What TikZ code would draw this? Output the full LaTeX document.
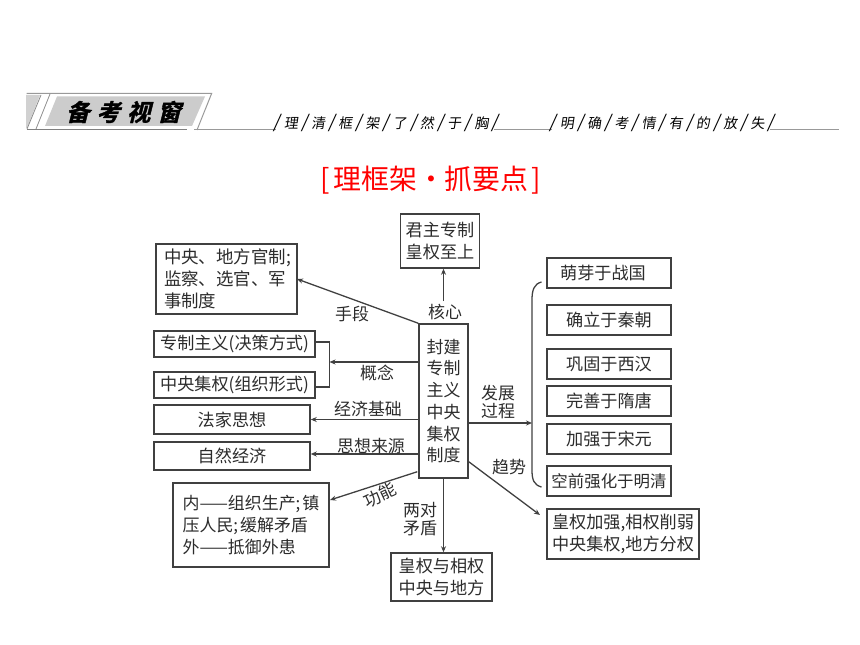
\documentclass[tikz,border=0pt]{standalone}
\usepackage{fontspec}
\usetikzlibrary{arrows.meta,calc}
\setmainfont{Noto Sans CJK SC}
\newfontfamily\bannerfont[FakeSlant=0.25,FakeBold=1.5,BoldFont={Noto Sans CJK SC Bold}]{Noto Sans CJK SC}
\newfontfamily\stripfont[FakeSlant=0.15]{Noto Sans CJK SC}
\newcommand{\sep}{\makebox[13.3bp]{\fontsize{18}{18}\selectfont /}}
\definecolor{ink}{HTML}{404040}
\definecolor{txt}{HTML}{2C2C2C}
\tikzset{
  every node/.style={text=txt,font=\fontsize{17.2}{22}\selectfont},
  box/.style={draw=ink,line width=1.5pt,inner sep=0pt,align=center,fill=white},
  lbl/.style={inner sep=0pt,align=center,font=\fontsize{17}{17.5}\selectfont},
  arr/.style={draw=ink,line width=1.3pt,-{Stealth[length=6bp,width=5bp]}},
  lin/.style={draw=ink,line width=1.3pt},
  strip/.style={inner sep=0pt,anchor=west,font=\stripfont\fontsize{14}{16}\selectfont,text=black},
  rule/.style={draw=black!40,line width=.8pt}
}
\begin{document}
\begin{tikzpicture}[x=1bp,y=-1bp]
\useasboundingbox (0,0) rectangle (860,645);
% banner
\fill[black!18] (26,95) -- (40,95) -- (27,128) -- (26,128) -- cycle;
\fill[black!20] (57,96.5) -- (205,96.5) -- (192,126) -- (45,126) -- cycle;
\draw[black!40,line width=1pt] (26.5,93.3) -- (211.7,93.3) -- (197,130);
\draw[black!50,line width=1.6pt] (26.5,129.6) -- (187,129.6);
\draw[black!45,line width=.8pt] (41,95) -- (27,129);
\draw[black!45,line width=.8pt] (50,94) -- (36,129);
\node[inner sep=0pt,text=black] (bannertext) at (123.5,112) {\bannerfont\bfseries\fontsize{23.5}{24}\selectfont 备\hspace{7bp}考\hspace{7bp}视\hspace{7bp}窗};
\coordinate (r1a) at (194,129.5); \coordinate (r1b) at (276,129.5);
\coordinate (r2a) at (494,129.5); \coordinate (r2b) at (552,129.5);
\coordinate (r3a) at (770,129.5); \coordinate (r3b) at (839,129.5);
\draw[rule] (r1a) -- (r1b); \draw[rule] (r2a) -- (r2b); \draw[rule] (r3a) -- (r3b);
\node[strip] (strip1) at (270.5,122.5) {\sep 理\sep 清\sep 框\sep 架\sep 了\sep 然\sep 于\sep 胸\sep};
\node[strip] (strip2) at (546.5,122.5) {\sep 明\sep 确\sep 考\sep 情\sep 有\sep 的\sep 放\sep 失\sep};
% title
\node[inner sep=0pt,text=red] (title) at (431,180) {\fontsize{28}{30}\selectfont [\hspace{3bp}理框架·抓要点\hspace{3bp}]};
% boxes
\node[box,minimum width=49bp,minimum height=154bp,font=\fontsize{17}{21.8}\selectfont] (hub) at (443.5,401) {封建\\专制\\主义\\中央\\集权\\制度};
\node[box,minimum width=79bp,minimum height=54bp] (top) at (440,241) {君主专制\\皇权至上};
\node[box,minimum width=141bp,minimum height=70bp,align=left,font=\fontsize{17.5}{22}\selectfont] (means) at (226.5,279) {\hspace*{2bp}中央、地方官制;\\\hspace*{2bp}监察、选官、军\\\hspace*{2bp}事制度};
\node[box,minimum width=161bp,minimum height=26bp] (zz) at (234.5,344) {专制主义(决策方式)};
\node[box,minimum width=161bp,minimum height=26bp] (jq) at (234.5,385) {中央集权(组织形式)};
\node[box,minimum width=156bp,minimum height=29bp] (fj) at (232,419.5) {法家思想};
\node[box,minimum width=156bp,minimum height=28bp] (zr) at (232,456) {自然经济};
\node[box,minimum width=156bp,minimum height=84bp,align=left,font=\fontsize{17}{22}\selectfont] (func) at (251,525) {内——组织生产;\hspace{2bp}镇\\压人民;\hspace{2bp}缓解矛盾\\外——抵御外患};
\node[box,minimum width=101bp,minimum height=48bp] (conf) at (441.5,577) {皇权与相权\\中央与地方};
\node[box,minimum width=124bp,minimum height=30bp] (s1) at (609,273) {萌芽于战国\hspace{12bp}};
\node[box,minimum width=124bp,minimum height=30bp] (s2) at (609,320) {确立于秦朝};
\node[box,minimum width=124bp,minimum height=30bp] (s3) at (609,364) {巩固于西汉};
\node[box,minimum width=124bp,minimum height=30bp] (s4) at (609,401) {完善于隋唐};
\node[box,minimum width=124bp,minimum height=30bp] (s5) at (609,439) {加强于宋元};
\node[box,minimum width=124bp,minimum height=30bp,font=\fontsize{16.5}{22}\selectfont] (s6) at (609,481) {空前强化于明清};
\node[box,minimum width=152bp,minimum height=50bp] (trend) at (623,534) {皇权加强,相权削弱\\中央集权,地方分权};
% connector anchors
\coordinate (hubtop) at (443.5,301);
\coordinate (brL) at (532,423);
\coordinate (brT) at (541.5,282);
\coordinate (brB) at (541.5,487);
\coordinate (merge) at (329.5,362);
\coordinate (trendEnd) at (540,515);
\coordinate (meansEnd) at (297,279);
\coordinate (funcEnd) at (330,500);
% connectors
\draw[arr] (hubtop) -- (top.south -| hubtop);
\draw[arr] (hub.north west) -- (meansEnd);
\draw[lin] ($(zz.east)+(0,-2)$) -- ($(zz.east -| merge)+(0,-2)$) -- ($(jq.east -| merge)+(0,2)$) -- ($(jq.east)+(0,2)$);
\draw[arr] (hub.west |- merge) -- (merge);
\draw[arr] (hub.west |- fj.east) -- (fj.east);
\draw[arr] ($(hub.west |- zr.east)+(0,-2)$) -- ($(zr.east)+(0,-2)$);
\draw[arr] ($(hub.south west)+(-1,-7)$) -- (funcEnd);
\draw[arr] (hub.south) -- (conf.north -| hub.south);
\draw[arr] (hub.east |- brL) -- (brL);
\draw[arr] ($(hub.south east)+(0,-17)$) -- (trendEnd);
\draw[lin] (brT) .. controls (534,284) and (532,290) .. (532,300) -- (532,470) .. controls (532,480) and (534,485) .. (brB);
% labels
\node[lbl] (lb1) at (352,314) {手段};
\node[lbl] (lb2) at (445,312) {核心};
\node[lbl] (lb3) at (377,373) {概念};
\node[lbl] (lb4) at (368,409) {经济基础};
\node[lbl] (lb5) at (371,446) {思想来源};
\node[lbl,rotate=25] (lb6) at (380,495) {功能};
\node[lbl] (lb7) at (420,519) {两对\\矛盾};
\node[lbl] (lb8) at (498,402) {发展\\过程};
\node[lbl] (lb9) at (509,467) {趋势};
\end{tikzpicture}
\end{document}
